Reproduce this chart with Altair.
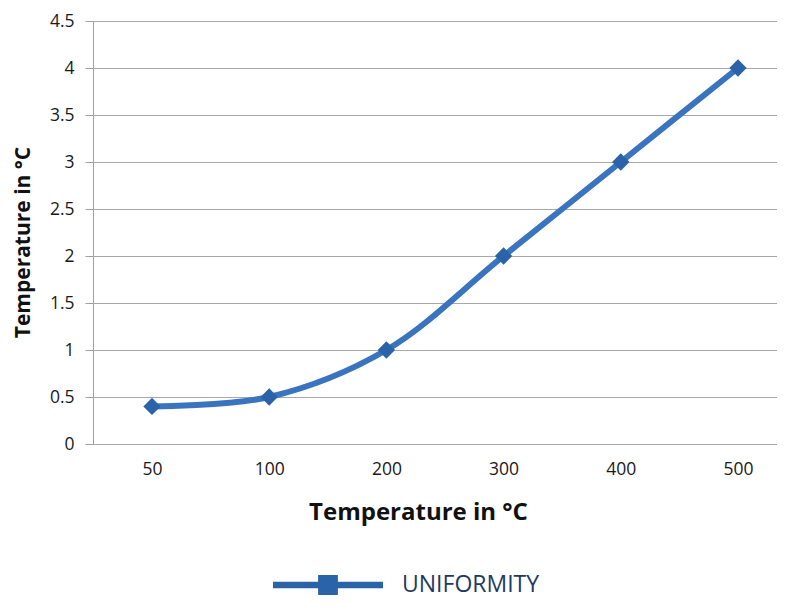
import altair as alt
import pandas as pd

temps = ["50", "100", "200", "300", "400", "500"]
uniformity = [0.4, 0.5, 1.0, 2.0, 3.0, 4.0]
series = ["UNIFORMITY"] * len(temps)
y_ticks = [0, 0.5, 1, 1.5, 2, 2.5, 3, 3.5, 4, 4.5]

df = pd.DataFrame({"temp": temps, "value": uniformity, "series": series})

FONT = "Open Sans"

x_enc = alt.X(
    "temp:N",
    sort=temps,
    scale=alt.Scale(type="point", padding=0.418, align=0.602),
    axis=alt.Axis(
        title="Temperature in °C",
        titleFont=FONT, titleFontSize=24, titleFontWeight="bold", titleColor="#111111",
        titleX=325, titleY=68, titleBaseline="middle", titleAnchor="middle",
        labelFont=FONT, labelFontSize=17.5, labelColor="#1a1a1a", labelPadding=16,
        labelAngle=0, domain=False, ticks=False, grid=False,
    ),
)
y_enc = alt.Y(
    "value:Q",
    scale=alt.Scale(domain=[0, 4.5], nice=False),
    axis=alt.Axis(
        values=y_ticks, format=".1~f",
        title="Temperature in °C",
        titleFont=FONT, titleFontSize=21, titleFontWeight="bold", titleColor="#111111",
        titleX=-70, titleY=221, titleBaseline="middle", titleAlign="center",
        labelFont=FONT, labelFontSize=17.5, labelColor="#1a1a1a", labelPadding=11,
        tickSize=8, tickColor="#a0a0a0", domainColor="#a0a0a0",
        gridColor="#a8a8a8", gridWidth=1.2,
    ),
)

line = alt.Chart(df).mark_line(
    interpolate="catmull-rom", strokeWidth=6, color="#3b74be"
).encode(x=x_enc, y=y_enc)

legend_symbol = "M-1,-0.06H1V0.06H-1Z M-0.18,-0.18H0.18V0.18H-0.18Z"

points = alt.Chart(df).mark_point(
    shape="diamond", filled=True, size=300, opacity=1
).encode(
    x=x_enc,
    y=y_enc,
    color=alt.Color(
        "series:N",
        scale=alt.Scale(domain=["UNIFORMITY"], range=["#2a63a8"]),
        legend=alt.Legend(
            title=None, orient="none", legendX=180, legendY=509,
            symbolType=legend_symbol, symbolSize=12100, symbolStrokeWidth=0,
            symbolOpacity=1,
            labelFont=FONT, labelFontSize=23, labelColor="#1f3a5f", labelOffset=19,
        ),
    ),
)

chart = alt.layer(line, points).properties(
    width=684, height=423,
    autosize=alt.AutoSizeParams(type="none"),
    padding={"left": 85, "top": 13, "right": 0, "bottom": 158},
).configure_view(stroke=None).configure(background="white")

chart.save("out.html", embed_options={"renderer": "svg", "actions": False})
